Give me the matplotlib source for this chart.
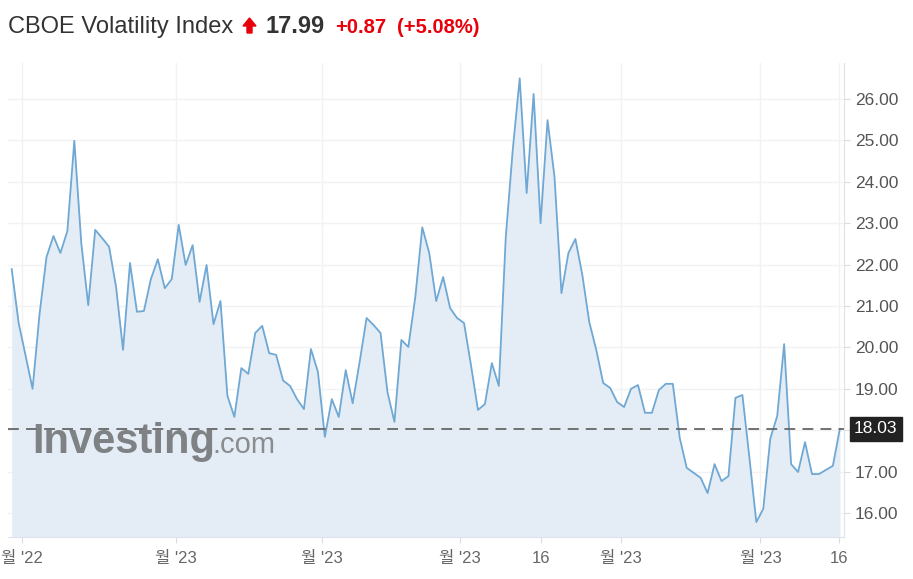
import numpy as np
import matplotlib.pyplot as plt
import matplotlib.transforms as mtransforms
from matplotlib.patches import FancyArrow

# weekly closes
vix = [21.89, 20.59, 19.80, 19.00, 20.80, 22.18, 22.69, 22.28, 22.81, 24.99,
       22.52, 21.02, 22.84, 22.64, 22.43, 21.46, 19.94, 22.04, 20.86, 20.88,
       21.65, 22.13, 21.43, 21.65, 22.96, 21.99, 22.47, 21.10, 21.99, 20.56,
       21.12, 18.83, 18.32, 19.50, 19.36, 20.35, 20.52, 19.86, 19.82, 19.20,
       19.07, 18.75, 18.51, 19.96, 19.41, 17.84, 18.75, 18.32, 19.45, 18.65,
       19.65, 20.71, 20.54, 20.35, 18.92, 18.20, 20.18, 20.01, 21.22, 22.90,
       22.28, 21.12, 21.70, 20.95, 20.71, 20.59, 19.57, 18.49, 18.63, 19.62,
       19.07, 22.67, 24.77, 26.50, 23.73, 26.12, 23.00, 25.49, 24.12, 21.31,
       22.28, 22.62, 21.75, 20.61, 19.94, 19.14, 19.02, 18.68, 18.56, 19.00,
       19.09, 18.42, 18.42, 18.97, 19.12, 19.12, 17.81, 17.09, 16.97, 16.85,
       16.48, 17.18, 16.77, 16.89, 18.78, 18.85, 17.35, 15.78, 16.10, 17.79,
       18.34, 20.08, 17.18, 16.99, 17.71, 16.94, 16.94, 17.04, 17.14, 18.03]

x_tick_pos = [1.5, 23.6, 44.6, 64.4, 76.0, 87.5, 107.6, 118.9]
x_tick_labels = ["월 '22", "월 '23", "월 '23", "월 '23", "16", "월 '23", "월 '23", "16"]
y_ticks = [16, 17, 18, 19, 20, 21, 22, 23, 24, 25, 26]

last_price = 18.03
title_name = "CBOE Volatility Index"
title_last = "17.99"
title_chg = "+0.87"
title_pct = "(+5.08%)"

plt.rcParams['font.family'] = ['Liberation Sans', 'Noto Sans CJK KR', 'DejaVu Sans']

fig = plt.figure(figsize=(9.13, 5.79), dpi=100)
ax = fig.add_axes([8/913, 42/579, 836/913, 474/579])

x = np.arange(len(vix))
ymin, ymax = 15.42, 26.87
ax.fill_between(x, vix, ymin, color='#e4edf5', lw=0)
ax.plot(x, vix, color='#6fa8d4', lw=1.3)
ax.axhline(last_price, color='#666666', lw=1.3, ls=(0, (6, 4)))

ax.set_xlim(-0.53, 119.6)
ax.set_ylim(ymin, ymax)

ax.yaxis.tick_right()
ax.set_yticks(y_ticks)
# the price tag covers the 18.00 label
ax.set_yticklabels(['' if abs(v - last_price) < 0.5 else '%.2f' % v for v in y_ticks])
ax.set_xticks(x_tick_pos)
ax.set_xticklabels(x_tick_labels)
ax.tick_params(axis='y', length=4, color='#d8dce3', labelsize=12.5, labelcolor='#555555', pad=4)
ax.tick_params(axis='x', length=4, color='#d8dce3', labelsize=12, labelcolor='#666666', pad=6)
ax.grid(True, color='#f2f2f2', lw=1)
ax.set_axisbelow(True)

for s in ['top', 'left']:
    ax.spines[s].set_visible(False)
for s in ['right', 'bottom']:
    ax.spines[s].set_color('#dde3ea')

# current price tag on the right axis
trans = mtransforms.blended_transform_factory(ax.transAxes, ax.transData)
ax.text(1.012, last_price, '%.2f' % last_price, transform=trans, ha='left', va='center',
        fontsize=12.5, color='white',
        bbox=dict(boxstyle='square,pad=0.25', fc='#222222', ec='#222222'))

# watermark
fig.text(32/913, 1 - 453/579, 'Investing', fontsize=30, fontweight='bold',
         color='#7a7c7e', alpha=0.95, ha='left', va='baseline')
fig.text(212/913, 1 - 453/579, '.com', fontsize=21, color='#8a8c8e',
         ha='left', va='baseline')

# header
base_y = 1 - 33/579
fig.text(8/913, base_y, title_name, fontsize=17, color='#333333', ha='left', va='baseline')
fig.patches.append(FancyArrow(249.5/913, 1 - 33/579, 0, 15/579, width=5/913,
                              head_width=13/913, head_length=8/579,
                              length_includes_head=True, color='#e8000b',
                              transform=fig.transFigure, figure=fig))
fig.text(265/913, base_y, title_last, fontsize=17, fontweight='bold', color='#333333',
         ha='left', va='baseline')
fig.text(335/913, base_y, title_chg, fontsize=14.5, fontweight='bold', color='#e8000b',
         ha='left', va='baseline')
fig.text(397/913, base_y, title_pct, fontsize=14.5, fontweight='bold', color='#e8000b',
         ha='left', va='baseline')

fig.savefig('out.png', dpi=100)
